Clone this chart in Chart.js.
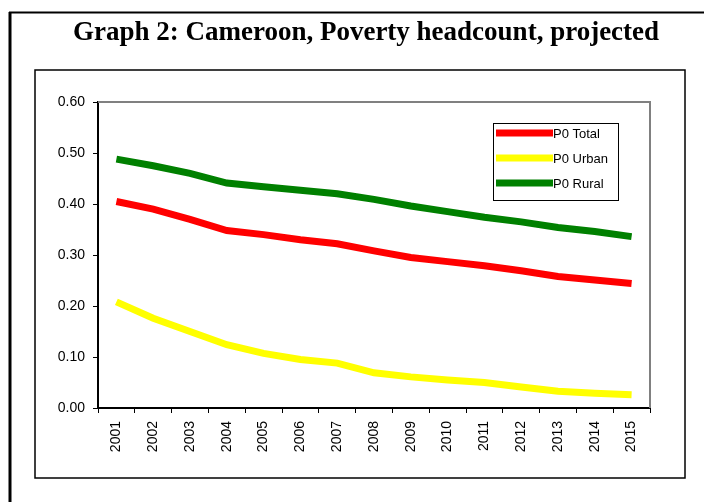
<!DOCTYPE html>
<html>
<head>
<meta charset="utf-8">
<script src="https://cdn.jsdelivr.net/npm/chart.js@4/dist/chart.umd.min.js"></script>
<style>
  html, body { margin: 0; padding: 0; background: #fff; }
  #wrap { position: relative; width: 704px; height: 502px; }
</style>
</head>
<body>
<div id="wrap"><canvas id="c" width="704" height="502"></canvas></div>
<script>
// Projected poverty headcount (P0), Cameroon, 2001-2015
const years = ['2001','2002','2003','2004','2005','2006','2007','2008','2009','2010','2011','2012','2013','2014','2015'];
const p0Total = [0.405, 0.390, 0.370, 0.348, 0.340, 0.330, 0.322, 0.308, 0.295, 0.287, 0.279, 0.269, 0.258, 0.251, 0.244];
const p0Urban = [0.208, 0.176, 0.150, 0.124, 0.107, 0.095, 0.088, 0.069, 0.061, 0.055, 0.050, 0.041, 0.033, 0.029, 0.026];
const p0Rural = [0.488, 0.475, 0.460, 0.441, 0.434, 0.427, 0.420, 0.409, 0.396, 0.385, 0.374, 0.365, 0.354, 0.346, 0.336];
const seriesNames = ['P0 Total', 'P0 Urban', 'P0 Rural'];
const seriesColors = ['#ff0000', '#ffff00', '#008000'];
const titleText = 'Graph 2: Cameroon, Poverty headcount, projected';

const AXIS_FONT = { family: 'Liberation Sans, Arial, sans-serif', size: 14 };

// Frames, title and the grey plot border
const framePlugin = {
  id: 'frames',
  beforeDraw(chart) {
    const ctx = chart.ctx;
    ctx.save();
    ctx.fillStyle = '#fff';
    ctx.fillRect(0, 0, chart.width, chart.height);
    // outer frame (left and top edges)
    ctx.strokeStyle = '#000';
    ctx.lineWidth = 3;
    ctx.beginPath();
    ctx.moveTo(10, 12); ctx.lineTo(10, 502);
    ctx.stroke();
    ctx.lineWidth = 2;
    ctx.beginPath();
    ctx.moveTo(9, 12.5); ctx.lineTo(704, 12.5);
    ctx.stroke();
    // inner chart box
    ctx.lineWidth = 1.5;
    ctx.strokeRect(35, 70, 650, 408);
    // title
    ctx.fillStyle = '#000';
    ctx.font = 'bold 27px "Liberation Serif", "Times New Roman", serif';
    ctx.textAlign = 'center';
    ctx.textBaseline = 'alphabetic';
    ctx.fillText(titleText, 366, 40);
    ctx.restore();
  },
  beforeDatasetsDraw(chart) {
    const { ctx, chartArea: a } = chart;
    ctx.save();
    ctx.strokeStyle = '#808080';
    ctx.lineWidth = 2;
    ctx.beginPath();
    ctx.moveTo(a.left, a.top);
    ctx.lineTo(a.right, a.top);
    ctx.lineTo(a.right, a.bottom);
    ctx.stroke();
    ctx.restore();
  }
};

// Boxed legend inside the plot area
const legendBoxPlugin = {
  id: 'legendBox',
  afterDatasetsDraw(chart) {
    const ctx = chart.ctx;
    const x0 = 493, y0 = 123, w = 125, h = 77;
    ctx.save();
    ctx.fillStyle = '#fff';
    ctx.fillRect(x0, y0, w, h);
    ctx.strokeStyle = '#000';
    ctx.lineWidth = 1;
    ctx.strokeRect(x0 + 0.5, y0 + 0.5, w, h);
    ctx.font = '13px "Liberation Sans", Arial, sans-serif';
    ctx.textAlign = 'left';
    ctx.textBaseline = 'middle';
    chart.data.datasets.forEach((ds, i) => {
      const y = 133 + i * 25;
      ctx.strokeStyle = ds.borderColor;
      ctx.lineWidth = 7;
      ctx.beginPath();
      ctx.moveTo(496, y);
      ctx.lineTo(553, y);
      ctx.stroke();
      ctx.fillStyle = '#000';
      ctx.fillText(ds.label, 553, y + 1);
    });
    ctx.restore();
  }
};

const seriesData = [p0Total, p0Urban, p0Rural];

new Chart(document.getElementById('c'), {
  type: 'line',
  data: {
    labels: years,
    datasets: seriesNames.map((name, i) => ({
      label: name,
      data: seriesData[i],
      borderColor: seriesColors[i],
      backgroundColor: seriesColors[i],
      borderWidth: 7,
      pointRadius: 0,
      tension: 0,
      fill: false
    }))
  },
  options: {
    responsive: false,
    animation: false,
    events: [],
    layout: { padding: { left: 0, top: 102, right: 54, bottom: 0 } },
    plugins: {
      legend: { display: false },
      title: { display: false },
      tooltip: { enabled: false }
    },
    scales: {
      x: {
        type: 'category',
        offset: true,
        grid: {
          offset: true,
          drawOnChartArea: false,
          drawTicks: true,
          tickLength: 5,
          color: '#000',
          lineWidth: 1
        },
        border: { color: '#000', width: 2 },
        ticks: {
          color: '#000',
          font: AXIS_FONT,
          minRotation: 90,
          maxRotation: 90,
          autoSkip: false,
          padding: 8
        },
        afterFit(scale) { scale.height = 94; }
      },
      y: {
        min: 0,
        max: 0.6,
        grid: {
          drawOnChartArea: false,
          drawTicks: true,
          tickLength: 5,
          color: '#000',
          lineWidth: 1
        },
        border: { color: '#000', width: 2 },
        ticks: {
          stepSize: 0.1,
          color: '#000',
          font: AXIS_FONT,
          padding: 8,
          callback: v => Number(v).toFixed(2)
        },
        afterFit(scale) { scale.width = 98; }
      }
    }
  },
  plugins: [framePlugin, legendBoxPlugin]
});
</script>
</body>
</html>
